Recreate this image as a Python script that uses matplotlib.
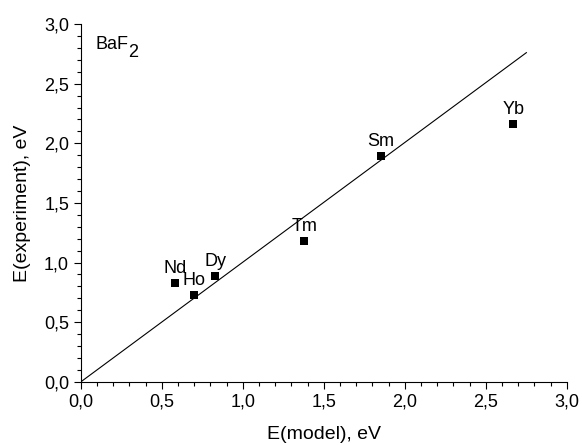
import matplotlib
matplotlib.use("Agg")
import matplotlib.pyplot as plt
from matplotlib.ticker import MultipleLocator, FuncFormatter

plt.rcParams['font.family'] = ['Liberation Sans', 'DejaVu Sans']

elements = ["Nd", "Ho", "Dy", "Tm", "Sm", "Yb"]
e_model = [0.58, 0.70, 0.83, 1.38, 1.85, 2.67]
e_exp = [0.83, 0.73, 0.89, 1.18, 1.89, 2.16]
line_x = [0.0, 2.75]
line_y = [0.0, 2.76]

fig = plt.figure(figsize=(5.82, 4.45), dpi=100)
ax = fig.add_axes([0.139, 0.142, 0.835, 0.804])

ax.plot(line_x, line_y, color='black', lw=0.8)
ax.scatter(e_model, e_exp, marker='s', s=36, color='black', zorder=3, linewidths=0)
for el, x, y in zip(elements, e_model, e_exp):
    ax.annotate(el, (x, y), xytext=(0, 7.3), textcoords='offset points',
                ha='center', va='baseline', fontsize=13)

# BaF2 label with full-size lowered subscript
t = ax.text(0.09, 2.79, "BaF", fontsize=13, ha='left', va='baseline')
ax.annotate("2", xy=(1, 0), xycoords=t, xytext=(0, -2.5), textcoords='offset points',
            fontsize=13, ha='left', va='baseline')

ax.set_xlim(0, 3.0)
ax.set_ylim(0, 3.0)
for s in ['top', 'right']:
    ax.spines[s].set_visible(False)
ax.xaxis.set_major_locator(MultipleLocator(0.5))
ax.xaxis.set_minor_locator(MultipleLocator(0.1))
ax.yaxis.set_major_locator(MultipleLocator(0.5))
ax.yaxis.set_minor_locator(MultipleLocator(0.1))
fmt = FuncFormatter(lambda v, p: f"{v:.1f}".replace('.', ','))
ax.xaxis.set_major_formatter(fmt)
ax.yaxis.set_major_formatter(fmt)
ax.tick_params(which='major', direction='out', length=5, width=0.8, labelsize=13, pad=3.5)
ax.tick_params(which='minor', direction='out', length=3, width=0.8)
ax.set_xlabel("E(model), eV", fontsize=14, labelpad=11)
ax.set_ylabel("E(experiment), eV", fontsize=14, labelpad=9)

fig.savefig("out.png", dpi=100)
